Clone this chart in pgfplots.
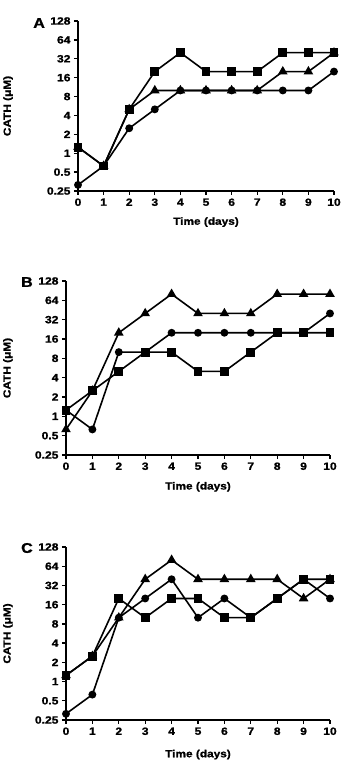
\documentclass[border=0pt]{standalone}
\usepackage{fontspec}
\setmainfont[FakeStretch=1.15, BoldFeatures={FakeBold=1.2}]{Liberation Sans}
\usepackage{pgfplots}
\pgfplotsset{compat=1.18}
\pgfplotsset{
  every axis/.append style={
    scale only axis, clip=false,
    ymin=0.25, ymax=128, xmin=0, xmax=10,
    axis lines*=left,
    ytick={0.25,0.5,1,2,4,8,16,32,64,128},
    yticklabels={0.25,0.5,1,2,4,8,16,32,64,128},
    xtick={0,1,2,3,4,5,6,7,8,9,10},
    xticklabels={0,1,2,3,4,5,6,7,8,9,10},
    tick align=outside, major tick length=4pt,
    xlabel={Time (days)}, ylabel={CATH (μM)},
  },
  every axis plot/.append style={black, line width=1.6pt, mark options={solid, fill=black}},
  every axis label/.append style={font=\fontsize{10.3}{12}\selectfont\bfseries},
  every tick label/.append style={font=\fontsize{10.5}{12}\selectfont\bfseries},
  every tick/.append style={line width=1.3pt, black},
}
\begin{document}
\begin{tikzpicture}[x=1pt,y=1pt]
\path[use as bounding box] (0,0) rectangle (353,763);
% Panel A
\begin{semilogyaxis}[log basis y=2, at={(78pt,572pt)}, anchor=south west, width=256pt, height=170pt,
  axis line style={-, line width=1.5pt},
  xlabel style={at={(axis description cs:0.5,-0.183)}, anchor=center},
  ylabel style={at={(axis description cs:-0.273,0.5)}, anchor=center}]
\addplot[mark=triangle*, mark size=4pt] coordinates {(0,1.25)(1,0.625)(2,5)(3,10)(4,10)(5,10)(6,10)(7,10)(8,20)(9,20)(10,40)};
\addplot[mark=*, mark size=3.1pt] coordinates {(0,0.3125)(1,0.625)(2,2.5)(3,5)(4,10)(5,10)(6,10)(7,10)(8,10)(9,10)(10,20)};
\addplot[mark=square*, mark size=3.6pt] coordinates {(0,1.25)(1,0.625)(2,5)(3,20)(4,40)(5,20)(6,20)(7,20)(8,40)(9,40)(10,40)};
\node[font=\fontsize{14}{16}\selectfont\bfseries] at (axis description cs:-0.152,0.988) {A};
\end{semilogyaxis}
% Panel B
\begin{semilogyaxis}[log basis y=2, at={(66pt,308pt)}, anchor=south west, width=264pt, height=174pt,
  axis line style={-, line width=1.5pt},
  xlabel style={at={(axis description cs:0.5,-0.183)}, anchor=center},
  ylabel style={at={(axis description cs:-0.22,0.5)}, anchor=center}]
\addplot[mark=triangle*, mark size=4pt] coordinates {(0,0.625)(1,2.5)(2,20)(3,40)(4,80)(5,40)(6,40)(7,40)(8,80)(9,80)(10,80)};
\addplot[mark=*, mark size=3.1pt] coordinates {(0,1.25)(1,0.625)(2,10)(3,10)(4,20)(5,20)(6,20)(7,20)(8,20)(9,20)(10,40)};
\addplot[mark=square*, mark size=3.6pt] coordinates {(0,1.25)(1,2.5)(2,5)(3,10)(4,10)(5,5)(6,5)(7,10)(8,20)(9,20)(10,20)};
\node[font=\fontsize{14}{16}\selectfont\bfseries] at (axis description cs:-0.148,0.994) {B};
\end{semilogyaxis}
% Panel C
\begin{semilogyaxis}[log basis y=2, at={(66pt,43pt)}, anchor=south west, width=264pt, height=173pt,
  axis line style={-, line width=1.5pt},
  xlabel style={at={(axis description cs:0.5,-0.2)}, anchor=center},
  ylabel style={at={(axis description cs:-0.22,0.5)}, anchor=center}]
\addplot[mark=triangle*, mark size=4pt] coordinates {(0,1.25)(1,2.5)(2,10)(3,40)(4,80)(5,40)(6,40)(7,40)(8,40)(9,20)(10,40)};
\addplot[mark=*, mark size=3.1pt] coordinates {(0,0.3125)(1,0.625)(2,10)(3,20)(4,40)(5,10)(6,20)(7,10)(8,20)(9,40)(10,20)};
\addplot[mark=square*, mark size=3.6pt] coordinates {(0,1.25)(1,2.5)(2,20)(3,10)(4,20)(5,20)(6,10)(7,10)(8,20)(9,40)(10,40)};
\node[font=\fontsize{14}{16}\selectfont\bfseries] at (axis description cs:-0.148,0.994) {C};
\end{semilogyaxis}
\end{tikzpicture}
\end{document}
